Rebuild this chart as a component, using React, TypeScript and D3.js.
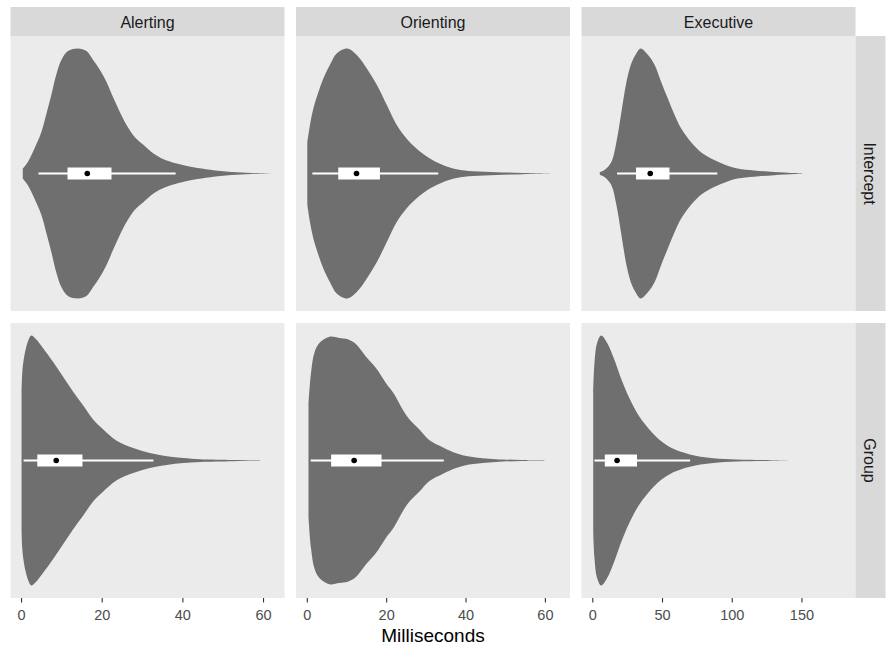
import React, { useEffect, useRef } from "react";
import * as d3 from "d3";

const tasks = ["Alerting", "Orienting", "Executive"];
const effects = ["Intercept", "Group"];

const xDomains: [number, number][] = [
  [-2.74, 65.2],
  [-2.85, 66.2],
  [-8.1, 188.4],
];
const xTicks = [
  [0, 20, 40, 60],
  [0, 20, 40, 60],
  [0, 50, 100, 150],
];

// violin profiles: [milliseconds, relative half width]
const alertingIntercept = [
  [0.3, 0.04], [1.6, 0.095], [3.2, 0.2], [4.9, 0.33], [6.1, 0.47], [7.4, 0.63], [8.6, 0.79],
  [9.9, 0.91], [11.5, 0.98], [14.0, 1.0], [16.1, 0.98], [17.7, 0.91], [19.4, 0.83],
  [21.1, 0.73], [22.7, 0.61], [24.4, 0.49], [26.0, 0.39], [28.1, 0.29], [30.2, 0.23],
  [32.7, 0.16], [35.2, 0.115], [38.5, 0.08], [42.6, 0.05], [46.8, 0.03], [52, 0.012],
  [57, 0.004], [62.3, 0],
];
const orientingIntercept = [
  [0, 0.25], [0.68, 0.39], [1.52, 0.52], [2.78, 0.65], [4.04, 0.76], [5.72, 0.87], [7.4, 0.96],
  [10.1, 1.0], [12.4, 0.95], [15.0, 0.84], [17.5, 0.71], [20.0, 0.55], [22.5, 0.39],
  [25.0, 0.28], [27.5, 0.2], [30.9, 0.12], [34.3, 0.067], [37.6, 0.035], [41.8, 0.019],
  [47.7, 0.011], [54.4, 0.005], [62.8, 0],
];
const executiveIntercept = [
  [5.0, 0.01], [8.6, 0.03], [13.4, 0.095], [16.9, 0.25], [20.5, 0.49], [24.1, 0.73],
  [27.6, 0.88], [31.2, 0.96], [34.3, 1.0], [39.5, 0.95], [44.3, 0.87], [49.1, 0.73],
  [53.8, 0.6], [58.6, 0.47], [63.4, 0.36], [70.5, 0.25], [77.6, 0.17], [84.8, 0.12],
  [94.3, 0.073], [103.8, 0.04], [115.7, 0.025], [130, 0.013], [145, 0.004], [152, 0],
];
const alertingGroup = [
  [0, 0.55], [0.17, 0.7], [0.5, 0.8], [1.1, 0.9], [1.8, 0.97], [2.4, 1.0], [3.6, 0.97],
  [5.3, 0.9], [7.8, 0.79], [10.3, 0.67], [12.8, 0.55], [15.3, 0.44], [17.7, 0.33],
  [20.2, 0.25], [23.5, 0.16], [27.7, 0.1], [31.8, 0.06], [36.0, 0.035], [40.1, 0.02],
  [44.3, 0.011], [52.5, 0.005], [60.8, 0],
];
const orientingGroup = [
  [0.3, 0.45], [0.93, 0.7], [1.77, 0.86], [3.03, 0.94], [5.55, 0.99], [8.07, 0.98],
  [10.2, 0.97], [12.3, 0.93], [14.8, 0.83], [17.3, 0.74], [19.8, 0.62], [21.9, 0.53],
  [24.0, 0.41], [25.7, 0.33], [28.2, 0.25], [30.7, 0.165], [34.1, 0.107], [37.5, 0.059],
  [40.8, 0.032], [44.2, 0.019], [47.6, 0.011], [54, 0.004], [62.8, 0],
];
const executiveGroup = [
  [0.3, 0.55], [1.2, 0.78], [3.1, 0.94], [6.0, 1.0], [10.3, 0.94], [15.0, 0.82], [19.8, 0.67],
  [24.5, 0.54], [29.3, 0.43], [34.1, 0.34], [41.2, 0.24], [48.4, 0.16], [55.5, 0.107],
  [65.0, 0.064], [74.5, 0.037], [86.4, 0.019], [103.1, 0.008], [126.9, 0.003], [146, 0],
];

const densities = [
  [alertingIntercept, orientingIntercept, executiveIntercept],
  [alertingGroup, orientingGroup, executiveGroup],
];

// box stats: [lower whisker, q1, q3, upper whisker, mean]
const boxIntercept = [
  [4.2, 11.4, 22.3, 38.2, 16.3],
  [1.27, 7.8, 18.3, 33.0, 12.4],
  [17.4, 31.0, 55.0, 89.3, 41.2],
];
const boxGroup = [
  [0.5, 3.9, 15.1, 32.7, 8.6],
  [0.85, 6.0, 18.7, 34.4, 11.8],
  [1.2, 8.6, 31.7, 69.8, 17.4],
];
const boxes = [boxIntercept, boxGroup];

const App = () => {
  const ref = useRef<SVGSVGElement | null>(null);

  useEffect(() => {
    if (!ref.current) return;
    const svg = d3.select(ref.current);
    svg.selectAll("*").remove();

    const font = "'Liberation Sans', Arial, Helvetica, sans-serif";
    const panelW = 274;
    const panelH = 275;
    const left0 = 10.5;
    const top0 = 36;
    const gapX = 11.5;
    const gapY = 12;
    const stripH = 29;
    const maxHalf = 125;

    const colLeft = (i: number) => left0 + i * (panelW + gapX);
    const rowTop = (j: number) => top0 + j * (panelH + gapY);

    svg.append("rect").attr("width", 887).attr("height", 648).attr("fill", "white");

    tasks.forEach((task, i) => {
      const x0 = colLeft(i);
      const x = d3.scaleLinear().domain(xDomains[i]).range([x0, x0 + panelW]);

      // top strip
      svg
        .append("rect")
        .attr("x", x0)
        .attr("y", top0 - stripH)
        .attr("width", panelW)
        .attr("height", stripH)
        .attr("fill", "#D9D9D9");
      svg
        .append("text")
        .attr("x", x0 + panelW / 2)
        .attr("y", top0 - stripH / 2)
        .attr("dy", "0.38em")
        .attr("text-anchor", "middle")
        .attr("font-family", font)
        .attr("font-size", 16)
        .attr("fill", "#1A1A1A")
        .text(task);

      effects.forEach((eff, j) => {
        const y0 = rowTop(j);
        const cy = y0 + panelH / 2;
        const g = svg.append("g");

        g.append("rect")
          .attr("x", x0)
          .attr("y", y0)
          .attr("width", panelW)
          .attr("height", panelH)
          .attr("fill", "#EBEBEB");

        const area = d3
          .area<number[]>()
          .x((d) => x(d[0]))
          .y0((d) => cy - d[1] * maxHalf)
          .y1((d) => cy + d[1] * maxHalf)
          .curve(d3.curveCatmullRom.alpha(0.5));

        g.append("path").attr("d", area(densities[j][i])).attr("fill", "#6F6F6F");

        const b = boxes[j][i];
        g.append("line")
          .attr("x1", x(b[0]))
          .attr("x2", x(b[3]))
          .attr("y1", cy)
          .attr("y2", cy)
          .attr("stroke", "white")
          .attr("stroke-width", 2);
        g.append("rect")
          .attr("x", x(b[1]))
          .attr("y", cy - 6)
          .attr("width", x(b[2]) - x(b[1]))
          .attr("height", 12)
          .attr("fill", "white");
        g.append("circle").attr("cx", x(b[4])).attr("cy", cy).attr("r", 2.8).attr("fill", "black");
      });

      // bottom axis
      const yb = rowTop(1) + panelH;
      const ax = svg.append("g");
      xTicks[i].forEach((t) => {
        ax.append("line")
          .attr("x1", x(t))
          .attr("x2", x(t))
          .attr("y1", yb)
          .attr("y2", yb + 4.5)
          .attr("stroke", "#333333")
          .attr("stroke-width", 1.1);
        ax.append("text")
          .attr("x", x(t))
          .attr("y", yb + 22)
          .attr("text-anchor", "middle")
          .attr("font-family", font)
          .attr("font-size", 14.5)
          .attr("fill", "#4D4D4D")
          .text(t);
      });
    });

    // right strips
    const sx = colLeft(2) + panelW;
    effects.forEach((eff, j) => {
      const y0 = rowTop(j);
      svg
        .append("rect")
        .attr("x", sx)
        .attr("y", y0)
        .attr("width", stripH + 1)
        .attr("height", panelH)
        .attr("fill", "#D9D9D9");
      svg
        .append("text")
        .attr("transform", `translate(${sx + (stripH + 1) / 2}, ${y0 + panelH / 2}) rotate(90)`)
        .attr("dy", "0.38em")
        .attr("text-anchor", "middle")
        .attr("font-family", font)
        .attr("font-size", 16)
        .attr("fill", "#1A1A1A")
        .text(eff);
    });

    svg
      .append("text")
      .attr("x", (colLeft(0) + colLeft(2) + panelW) / 2)
      .attr("y", 642)
      .attr("text-anchor", "middle")
      .attr("font-family", font)
      .attr("font-size", 19)
      .attr("fill", "black")
      .text("Milliseconds");
  }, []);

  return (
    <div style={{ position: "absolute", left: 0, top: 0 }}>
      <svg ref={ref} width={887} height={648} style={{ display: "block" }} />
    </div>
  );
};

export default App;
